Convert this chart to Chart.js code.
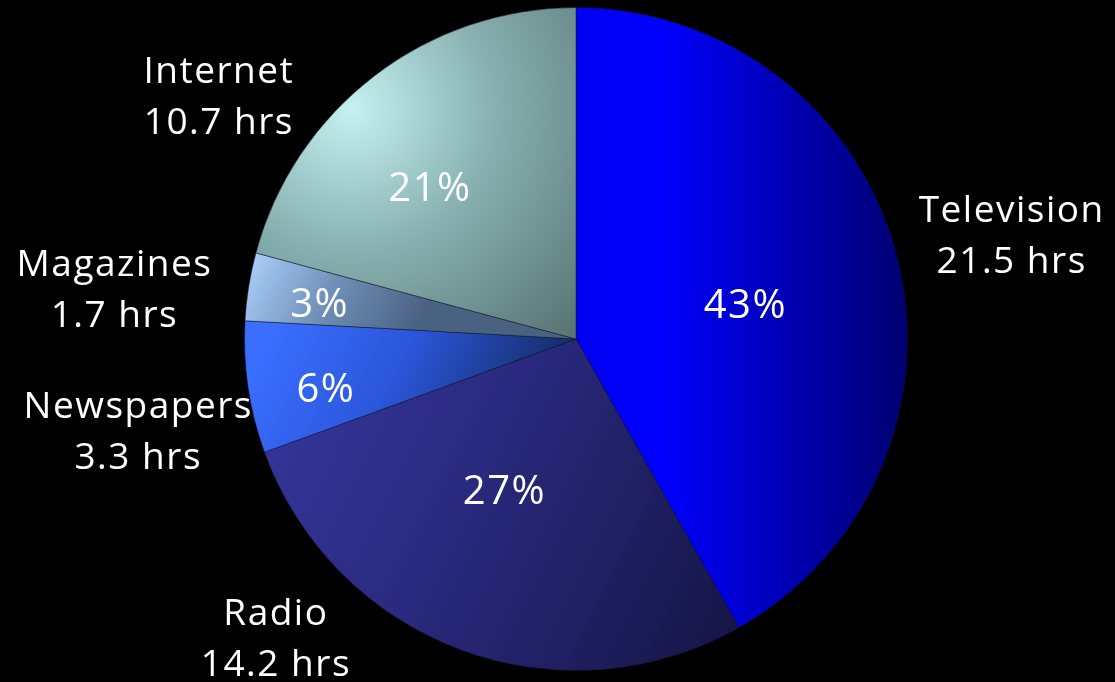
<!DOCTYPE html>
<html lang="en">
<head>
    <meta charset="UTF-8">
    <title>Weekly Media Hours</title>
    <style>
        html, body {
            margin: 0;
            padding: 0;
            background: #000;
            overflow: hidden;
        }
        .chart-box {
            width: 1115px;
            height: 682px;
        }
    </style>
    <script src="https://cdn.jsdelivr.net/npm/chart.js"></script>
</head>
<body>
    <div class="chart-box">
        <canvas id="mediaChart"></canvas>
    </div>
    <script>
        // data
        const categories = ['Television', 'Radio', 'Newspapers', 'Magazines', 'Internet'];
        const hours = [21.5, 14.2, 3.3, 1.7, 10.7];
        const hourLabels = ['21.5 hrs', '14.2 hrs', '3.3 hrs', '1.7 hrs', '10.7 hrs'];
        const percentLabels = ['43%', '27%', '6%', '3%', '21%'];

        // shading per slice: type, start/end (fractions of the slice box), colour stops
        const sliceShades = [
            { type: 'linear', from: [0, 0.5], to: [1, 0.5], stops: [[0, '#0000f2'], [0.25, '#0000ff'], [1, '#000070']] },
            { type: 'linear', from: [0, 0.2], to: [1, 0.9], stops: [[0, '#35359a'], [0.4, '#2a2a80'], [1, '#151546']] },
            { type: 'linear', from: [0.1, 0], to: [0.9, 1], stops: [[0, '#3a6eff'], [0.45, '#2a55d8'], [1, '#122656']] },
            { type: 'linear', from: [0, 0], to: [0.5, 1], stops: [[0, '#aed4ff'], [0.5, '#7090b8'], [1, '#4a6282']] },
            { type: 'radial', from: [0.3, 0.31], radius: 0.95, stops: [[0, '#c4f2f0'], [0.45, '#88b0b0'], [1, '#587474']] }
        ];

        // label placement: angle shift (deg) from slice middle, distance as fraction of radius
        const nameSpots = [[1.5, 1.35], [24.7, 1.28], [-3.6, 1.35], [-3.1, 1.40], [-18.5, 1.30]];
        const pctSpots = [[4, 0.52], [4.7, 0.51], [-3.2, 0.77], [-1.6, 0.78], [-6.9, 0.63]];

        const labelFont = '500 37px "Open Sans", "Noto Sans", sans-serif';
        const pctFont = '500 40px "Open Sans", "Noto Sans", sans-serif';

        function sliceBox(area, index) {
            const cx = (area.left + area.right) / 2;
            const cy = (area.top + area.bottom) / 2;
            const r = Math.min(area.right - area.left, area.bottom - area.top) / 2;
            const total = hours.reduce((a, b) => a + b, 0);
            let before = 0;
            for (let i = 0; i < index; i++) before += hours[i];
            const a0 = -Math.PI / 2 + before / total * Math.PI * 2;
            const a1 = a0 + hours[index] / total * Math.PI * 2;
            const pts = [[cx, cy]];
            const steps = 24;
            for (let s = 0; s <= steps; s++) {
                const a = a0 + (a1 - a0) * s / steps;
                pts.push([cx + Math.cos(a) * r, cy + Math.sin(a) * r]);
            }
            const xs = pts.map(p => p[0]);
            const ys = pts.map(p => p[1]);
            return { left: Math.min(...xs), right: Math.max(...xs), top: Math.min(...ys), bottom: Math.max(...ys) };
        }

        function sliceFill(context) {
            const chart = context.chart;
            const area = chart.chartArea;
            const shade = sliceShades[context.dataIndex];
            if (!area) return shade.stops[0][1];
            const box = sliceBox(area, context.dataIndex);
            const w = box.right - box.left;
            const h = box.bottom - box.top;
            let grad;
            if (shade.type === 'radial') {
                const gx = box.left + shade.from[0] * w;
                const gy = box.top + shade.from[1] * h;
                grad = chart.ctx.createRadialGradient(gx, gy, 0, gx, gy, shade.radius * Math.max(w, h));
            } else {
                grad = chart.ctx.createLinearGradient(
                    box.left + shade.from[0] * w, box.top + shade.from[1] * h,
                    box.left + shade.to[0] * w, box.top + shade.to[1] * h);
            }
            shade.stops.forEach(s => grad.addColorStop(s[0], s[1]));
            return grad;
        }

        function spot(arc, shiftDeg, dist) {
            const a = (arc.startAngle + arc.endAngle) / 2 + shiftDeg * Math.PI / 180;
            return [arc.x + Math.cos(a) * arc.outerRadius * dist, arc.y + Math.sin(a) * arc.outerRadius * dist];
        }

        const sliceLabels = {
            id: 'sliceLabels',
            afterDatasetsDraw(chart) {
                const ctx = chart.ctx;
                const arcs = chart.getDatasetMeta(0).data;
                ctx.save();
                ctx.fillStyle = '#ffffff';
                ctx.textAlign = 'center';
                ctx.textBaseline = 'middle';
                ctx.letterSpacing = '1.5px';
                arcs.forEach((arc, i) => {
                    const [px, py] = spot(arc, pctSpots[i][0], pctSpots[i][1]);
                    ctx.font = pctFont;
                    ctx.fillText(percentLabels[i], px, py);

                    const [lx, ly] = spot(arc, nameSpots[i][0], nameSpots[i][1]);
                    ctx.font = labelFont;
                    ctx.fillText(categories[i], lx, ly - 25);
                    ctx.fillText(hourLabels[i], lx, ly + 26);
                });
                ctx.restore();
            }
        };

        new Chart(document.getElementById('mediaChart'), {
            type: 'pie',
            data: {
                labels: categories,
                datasets: [{
                    data: hours,
                    backgroundColor: sliceFill,
                    borderColor: 'rgba(15, 20, 45, 0.5)',
                    borderWidth: 1
                }]
            },
            options: {
                responsive: true,
                maintainAspectRatio: false,
                animation: false,
                layout: {
                    padding: { left: 244, right: 207, top: 7, bottom: 11 }
                },
                plugins: {
                    legend: { display: false },
                    tooltip: { enabled: false }
                }
            },
            plugins: [sliceLabels]
        });
    </script>
</body>
</html>
